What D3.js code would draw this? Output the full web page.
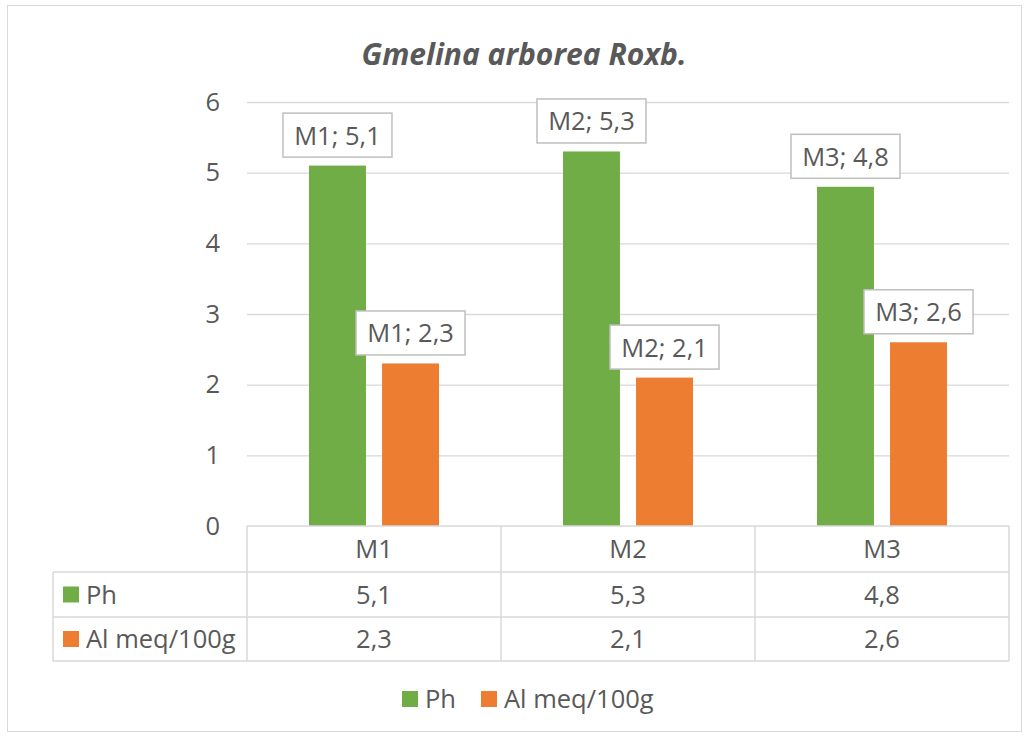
<!DOCTYPE html>
<html><head><meta charset="utf-8">
<script src="https://cdn.jsdelivr.net/npm/d3@7"></script>
<style>body{margin:0;background:#fff}svg{display:block}text{font-family:"Open Sans",Lato,sans-serif;fill:#595959}</style>
</head><body>
<script>
const categories = ["M1","M2","M3"];
const seriesNames = ["Ph","Al meq/100g"];
const phValues = [5.1,5.3,4.8];
const alValues = [2.3,2.1,2.6];
const yTicks = [0,1,2,3,4,5,6];
const colors = ["#70ad47","#ed7d31"];
const title = "Gmelina arborea Roxb.";
const fmt = v => String(v).replace(".", ",");
const FS = "25.5px";

const W=1028,H=736;
const svg=d3.select("body").append("svg").attr("width",W).attr("height",H);
svg.append("rect").attr("x",7.5).attr("y",5.5).attr("width",1014).attr("height",726).attr("fill","#fff").attr("stroke","#d9d9d9");

const x0=d3.scaleBand().domain(categories).range([247,1009]).paddingInner(0).paddingOuter(0);
const y=d3.scaleLinear().domain([0,6]).range([526,102]);
const x1=d3.scaleBand().domain(seriesNames).range([62,192]).paddingInner(0.22).paddingOuter(0);

svg.append("text").attr("x",524).attr("y",65).attr("text-anchor","middle")
  .style("font-size","30px").style("font-style","italic").style("font-weight","bold").text(title);

// grid
const g=svg.append("g");
g.selectAll("line.grid").data(yTicks.filter(d=>d>0)).join("line")
  .attr("x1",247).attr("x2",1009).attr("y1",d=>y(d)+0.5).attr("y2",d=>y(d)+0.5)
  .attr("stroke","#d9d9d9").attr("stroke-width",1.3);
const yAxis=d3.axisLeft(y).tickValues(yTicks).tickSize(0).tickPadding(0).tickFormat(d=>d);
const ya=svg.append("g").attr("transform","translate(220,0)").call(yAxis);
ya.select(".domain").remove();
ya.selectAll("text").style("font-size",FS).attr("fill","#595959").attr("font-family","'Open Sans',Lato,sans-serif");

const series=[phValues,alValues];
const data=[];
categories.forEach((c,i)=>series.forEach((s,j)=>data.push({c,s:seriesNames[j],v:s[i],j})));
svg.selectAll("rect.bar").data(data).join("rect")
  .attr("x",d=>x0(d.c)+x1(d.s)).attr("width",x1.bandwidth())
  .attr("y",d=>y(d.v)).attr("height",d=>y(0)-y(d.v)).attr("fill",d=>colors[d.j]);

// labels
const lab=svg.selectAll("g.lab").data(data).join("g")
  .attr("transform",d=>`translate(${x0(d.c)+x1(d.s)+x1.bandwidth()/2},${y(d.v)-8})`);
lab.append("rect").attr("x",-54.5).attr("y",-44.5).attr("width",109).attr("height",44)
  .attr("fill","#fff").attr("stroke","#bfbfbf").attr("stroke-width",1.5);
lab.append("text").attr("text-anchor","middle").attr("y",-13).style("font-size",FS)
  .text(d=>`${d.c}; ${fmt(d.v)}`);

// table
const T=svg.append("g");
const rowY=[526,572,617,661];
const lc="#d9d9d9";
T.append("line").attr("x1",247).attr("x2",1009).attr("y1",526).attr("y2",526).attr("stroke",lc).attr("stroke-width",1.5);
[572,617,661].forEach(yy=>T.append("line").attr("x1",53).attr("x2",1009).attr("y1",yy).attr("y2",yy).attr("stroke",lc).attr("stroke-width",1.5));
x0.domain().forEach(c=>T.append("line").attr("x1",x0(c)).attr("x2",x0(c)).attr("y1",526).attr("y2",661).attr("stroke",lc).attr("stroke-width",1.5));
T.append("line").attr("x1",1009).attr("x2",1009).attr("y1",526).attr("y2",661).attr("stroke",lc).attr("stroke-width",1.5);
T.append("line").attr("x1",53).attr("x2",53).attr("y1",572).attr("y2",661).attr("stroke",lc).attr("stroke-width",1.5);
categories.forEach(c=>T.append("text").attr("x",x0(c)+x0.bandwidth()/2).attr("y",558).attr("text-anchor","middle").style("font-size",FS).text(c));
series.forEach((s,j)=>{
  const cy=(rowY[j+1]+rowY[j+2])/2;
  T.append("rect").attr("x",63).attr("y",cy-8).attr("width",16).attr("height",16).attr("fill",colors[j]);
  T.append("text").attr("x",86).attr("y",cy+9).style("font-size",FS).text(seriesNames[j]);
  categories.forEach((c,i)=>T.append("text").attr("x",x0(c)+x0.bandwidth()/2).attr("y",cy+9).attr("text-anchor","middle").style("font-size",FS).text(fmt(s[i])));
});

// legend
const L=svg.append("g");
const legX=[402,481];
seriesNames.forEach((n,j)=>{
  L.append("rect").attr("x",legX[j]).attr("y",691).attr("width",16).attr("height",16).attr("fill",colors[j]);
  L.append("text").attr("x",legX[j]+23).attr("y",708).style("font-size",FS).text(n);
});
</script>
</body></html>
